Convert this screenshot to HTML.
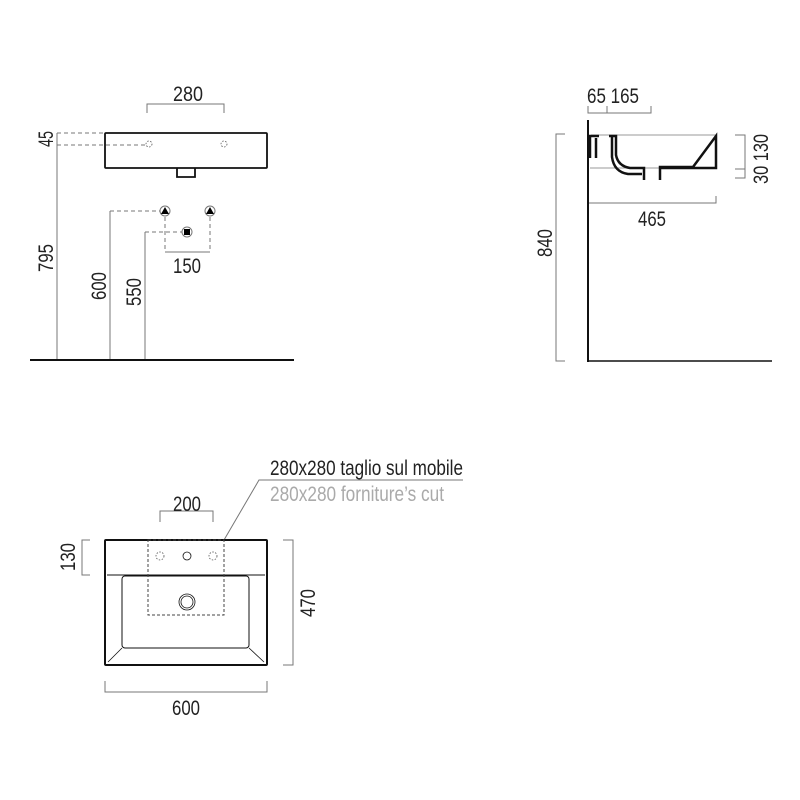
<!DOCTYPE html>
<html><head><style>html,body{margin:0;padding:0;background:#fff}svg{display:block}text{font-family:"Liberation Sans",sans-serif;fill:#222}</style></head>
<body>
<svg width="800" height="800" viewBox="0 0 800 800" xmlns="http://www.w3.org/2000/svg">
<g fill="none" stroke="#777" stroke-width="1">
<polyline points="147,113 147,104 224,104 224,113"/>
<line x1="57" y1="133" x2="57" y2="360"/>
<line x1="57" y1="133" x2="105" y2="133" stroke-dasharray="4,3"/>
<line x1="57" y1="145" x2="146" y2="145" stroke-dasharray="4,3"/>
<line x1="110" y1="211" x2="160" y2="211" stroke-dasharray="4,3"/>
<line x1="110" y1="211" x2="110" y2="360"/>
<line x1="145" y1="232" x2="145" y2="360"/>
<line x1="145" y1="232" x2="182" y2="232" stroke-dasharray="4,3"/>
<line x1="165" y1="217" x2="165" y2="252" stroke-dasharray="4,3"/>
<line x1="210" y1="217" x2="210" y2="252" stroke-dasharray="4,3"/>
<line x1="165" y1="252" x2="210" y2="252"/>
<polyline points="588,106 588,113 651,113 651,106"/>
<line x1="607" y1="106" x2="607" y2="113"/>
<polyline points="565,134 556,134 556,361 565,361"/>
<polyline points="735,135 745,135 745,169 735,169"/>
<polyline points="735,169 745,169 745,178 735,178"/>
<polyline points="588,196 588,203 716,203 716,196"/>
<polyline points="160,522 160,511 213,511 213,522"/>
<polyline points="90,540 82,540 82,575 90,575"/>
<polyline points="283,540 293,540 293,665 283,665"/>
<polyline points="105,681 105,692 267,692 267,681"/>
<polyline points="224,540 259,480 463,480"/>
</g>
<g fill="none" stroke="#111" stroke-width="1.8">
<rect x="105" y="133" width="162" height="35" rx="1"/>
<polyline points="177,168 177,177 195,177 195,168"/>
</g>
<g fill="none" stroke="#555" stroke-width="0.8" stroke-dasharray="1.5,1.5">
<circle cx="149" cy="144" r="3"/><circle cx="224" cy="144" r="3"/>
</g>
<g stroke="#777" stroke-width="1" fill="#fff"><circle cx="165" cy="211" r="5"/><circle cx="210" cy="211" r="5"/><circle cx="187" cy="232" r="5"/></g>
<polygon points="165,207 161,214 169,214" fill="#000"/>
<polygon points="210,207 206,214 214,214" fill="#000"/>
<rect x="184" y="229" width="6" height="6" fill="#000"/>
<line x1="30" y1="360" x2="294" y2="360" stroke="#111" stroke-width="2"/>
<line x1="588" y1="120" x2="588" y2="362" stroke="#111" stroke-width="2"/>
<line x1="588" y1="361" x2="772" y2="361" stroke="#111" stroke-width="1.5"/>
<g fill="none" stroke="#999" stroke-width="1"><line x1="591" y1="135" x2="716" y2="135"/><line x1="590" y1="168" x2="660" y2="168"/></g>
<g fill="none" stroke="#111" stroke-width="2.5">
<polyline points="589,136 599,136"/><line x1="590" y1="136" x2="590" y2="158"/><line x1="596" y1="138" x2="596" y2="158"/>
<path d="M609,136 H616 V155 Q618,166 630,168 H644 V180"/>
<path d="M612,137 V157 Q614,172 628,174 H642"/>
<path d="M660,180 V167 H693 L716,136 V168 H660"/>
</g>
<g fill="none" stroke="#111">
<rect x="105" y="540" width="162" height="125" rx="1" stroke-width="2"/>
<line x1="107" y1="575" x2="265" y2="575" stroke-width="1"/>
<rect x="122" y="576" width="127" height="72" rx="3" stroke-width="1"/>
<line x1="108" y1="662" x2="122" y2="648" stroke-width="0.8"/>
<line x1="264" y1="662" x2="249" y2="648" stroke-width="0.8"/>
<circle cx="187" cy="556" r="4" stroke-width="0.8"/>
<circle cx="187" cy="602" r="8" stroke-width="0.8"/>
<circle cx="187" cy="602" r="6" stroke-width="0.8"/>
</g>
<rect x="148" y="540" width="76" height="75" fill="none" stroke="#444" stroke-width="1" stroke-dasharray="3,2"/>
<g fill="none" stroke="#555" stroke-width="0.8" stroke-dasharray="1.5,1.5"><circle cx="160" cy="556" r="4"/><circle cx="213" cy="556" r="4"/></g>
<g font-size="21">
<text x="188" y="101" text-anchor="middle" textLength="30" lengthAdjust="spacingAndGlyphs">280</text>
<text transform="translate(53,139) rotate(-90)" text-anchor="middle" textLength="16" lengthAdjust="spacingAndGlyphs">45</text>
<text transform="translate(53,258) rotate(-90)" text-anchor="middle" textLength="28" lengthAdjust="spacingAndGlyphs">795</text>
<text transform="translate(106,286) rotate(-90)" text-anchor="middle" textLength="28" lengthAdjust="spacingAndGlyphs">600</text>
<text transform="translate(141,292) rotate(-90)" text-anchor="middle" textLength="28" lengthAdjust="spacingAndGlyphs">550</text>
<text x="187" y="273" text-anchor="middle" textLength="28" lengthAdjust="spacingAndGlyphs">150</text>
<text x="613" y="103" text-anchor="middle" textLength="52" lengthAdjust="spacingAndGlyphs">65 165</text>
<text transform="translate(552,243) rotate(-90)" text-anchor="middle" textLength="28" lengthAdjust="spacingAndGlyphs">840</text>
<text transform="translate(768,159) rotate(-90)" text-anchor="middle" textLength="50" lengthAdjust="spacingAndGlyphs">30 130</text>
<text x="652" y="226" text-anchor="middle" textLength="28" lengthAdjust="spacingAndGlyphs">465</text>
<text x="187" y="511" text-anchor="middle" textLength="28" lengthAdjust="spacingAndGlyphs">200</text>
<text transform="translate(75,557) rotate(-90)" text-anchor="middle" textLength="28" lengthAdjust="spacingAndGlyphs">130</text>
<text transform="translate(315,603) rotate(-90)" text-anchor="middle" textLength="28" lengthAdjust="spacingAndGlyphs">470</text>
<text x="186" y="715" text-anchor="middle" textLength="28" lengthAdjust="spacingAndGlyphs">600</text>
<text x="270" y="475" textLength="193" lengthAdjust="spacingAndGlyphs">280x280 taglio sul mobile</text>
<text x="270" y="501" textLength="174" lengthAdjust="spacingAndGlyphs" style="fill:#aaa">280x280 forniture’s cut</text>
</g>
</svg>
</body></html>
